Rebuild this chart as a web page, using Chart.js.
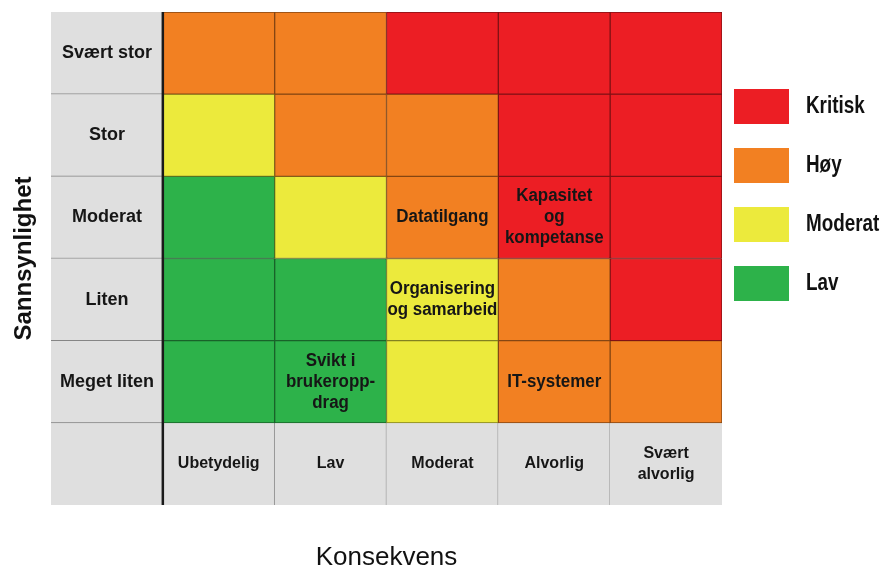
<!DOCTYPE html>
<html lang="no">
<head>
<meta charset="utf-8">
<title>Risikomatrise</title>
<script src="https://cdn.jsdelivr.net/npm/chart.js@4.4.1/dist/chart.umd.min.js"></script>
<style>
  html, body { margin: 0; padding: 0; background: #fff; }
  canvas { display: block; }
</style>
</head>
<body>
<canvas id="riskChart" width="890" height="572"></canvas>
<script>
// Konsekvens along x, sannsynlighet along y (top to bottom)
const consequences = ['Ubetydelig', 'Lav', 'Moderat', 'Alvorlig', 'Svært alvorlig'];
const likelihoods = ['Svært stor', 'Stor', 'Moderat', 'Liten', 'Meget liten'];

// risk levels, 0 = Kritisk ... 3 = Lav
const levels = ['Kritisk', 'Høy', 'Moderat', 'Lav'];
const levelColors = ['#ec1e24', '#f28022', '#ecea3c', '#2db24a'];

// level of every cell, one row per likelihood
const matrix = [
  [1, 1, 0, 0, 0],
  [2, 1, 1, 0, 0],
  [3, 2, 1, 0, 0],
  [3, 3, 2, 1, 0],
  [3, 3, 2, 1, 1]
];

// risks placed in the matrix (row = likelihood index, col = consequence index)
const riskNames = [
  ['Datatilgang'],
  ['Kapasitet', 'og', 'kompetanse'],
  ['Organisering', 'og samarbeid'],
  ['Svikt i', 'brukeropp-', 'drag'],
  ['IT-systemer']
];
const riskRows = [2, 2, 3, 4, 4];
const riskCols = [2, 3, 2, 1, 3];

const FONT = '"Liberation Sans", Arial, sans-serif';
const headerGray = '#dfdfdf';
const xLabels = [''].concat(consequences);   // first column holds the row headers
const nRows = likelihoods.length + 1;         // last row holds the column headers

function darken(hex, f) {
  const n = parseInt(hex.slice(1), 16);
  const r = Math.round(((n >> 16) & 255) * f);
  const g = Math.round(((n >> 8) & 255) * f);
  const b = Math.round((n & 255) * f);
  return `rgb(${r},${g},${b})`;
}

const datasets = [];
for (let r = 0; r < nRows; r++) {
  const labelRow = r === likelihoods.length;
  const fills = xLabels.map((_, c) => (c === 0 || labelRow) ? headerGray : levelColors[matrix[r][c - 1]]);
  datasets.push({
    label: labelRow ? '' : likelihoods[r],
    data: xLabels.map(() => [nRows - 1 - r, nRows - r]),
    backgroundColor: fills,
    borderColor: fills.map((f, c) => (c === 0 || labelRow) ? '#858585' : darken(f, 0.55)),
    borderSkipped: false,
    borderWidth: (ctx) => {
      const c = ctx.dataIndex;
      if (c > 0 && !labelRow) return 1;
      return {
        left: 0,
        top: 0,
        right: (labelRow && c > 0 && c < consequences.length) ? 1 : 0,
        bottom: (c === 0 && !labelRow) ? 1 : 0
      };
    }
  });
}

function wrap(ctx, text, maxW) {
  const words = text.split(' ');
  const lines = [];
  let line = '';
  words.forEach(w => {
    const test = line ? line + ' ' + w : w;
    if (line && ctx.measureText(test).width > maxW) {
      lines.push(line);
      line = w;
    } else {
      line = test;
    }
  });
  lines.push(line);
  return lines;
}

// centred block of lines, optionally squeezed horizontally
function drawLines(ctx, lines, cx, cy, lh, sx = 1) {
  const y0 = cy - (lines.length - 1) * lh / 2;
  lines.forEach((t, i) => {
    ctx.save();
    ctx.translate(cx, y0 + i * lh);
    ctx.scale(sx, 1);
    ctx.fillText(t, 0, 0);
    ctx.restore();
  });
}

const matrixText = {
  id: 'matrixText',
  afterDatasetsDraw(chart) {
    const { ctx, chartArea, scales: { x, y } } = chart;
    const cellW = x.getPixelForValue(1) - x.getPixelForValue(0);
    ctx.save();

    // heavy line between the row headers and the matrix
    const edge = (x.getPixelForValue(0) + x.getPixelForValue(1)) / 2;
    ctx.strokeStyle = '#1a1a1a';
    ctx.lineWidth = 2.5;
    ctx.beginPath();
    ctx.moveTo(edge, chartArea.top);
    ctx.lineTo(edge, chartArea.bottom);
    ctx.stroke();

    ctx.fillStyle = '#161616';
    ctx.textAlign = 'center';
    ctx.textBaseline = 'middle';

    ctx.font = 'bold 18px ' + FONT;
    likelihoods.forEach((t, r) => {
      drawLines(ctx, [t], x.getPixelForValue(0), y.getPixelForValue(nRows - r - 0.5), 21);
    });

    ctx.font = 'bold 16px ' + FONT;
    consequences.forEach((t, c) => {
      drawLines(ctx, wrap(ctx, t, cellW - 20), x.getPixelForValue(c + 1), y.getPixelForValue(0.5), 21);
    });

    ctx.font = 'bold 18px ' + FONT;
    riskNames.forEach((lines, i) => {
      drawLines(ctx, lines, x.getPixelForValue(riskCols[i] + 1), y.getPixelForValue(nRows - riskRows[i] - 0.5), 21, 0.94);
    });
    ctx.restore();
  },
  afterDraw(chart) {
    // legend for the risk levels
    const { ctx, chartArea } = chart;
    const boxX = chartArea.right + 12;
    ctx.save();
    ctx.font = 'bold 23px ' + FONT;
    ctx.textAlign = 'left';
    ctx.textBaseline = 'middle';
    levels.forEach((name, i) => {
      const top = 89 + i * 59;
      ctx.fillStyle = levelColors[i];
      ctx.fillRect(boxX, top, 55, 35);
      ctx.fillStyle = '#111';
      drawLines(ctx, [name], boxX + 72, top + 18, 0, 0.82);
    });
    ctx.restore();
  }
};

new Chart(document.getElementById('riskChart'), {
  type: 'bar',
  data: { labels: xLabels, datasets: datasets },
  options: {
    responsive: false,
    animation: false,
    devicePixelRatio: 1,
    grouped: false,
    barPercentage: 1,
    categoryPercentage: 1,
    layout: { padding: { top: 12, right: 168, left: 0, bottom: 0 } },
    plugins: {
      legend: { display: false },
      tooltip: { enabled: false }
    },
    scales: {
      x: {
        grid: { display: false, drawTicks: false },
        border: { display: false },
        ticks: { display: false },
        title: {
          display: true,
          text: 'Konsekvens',
          color: '#111',
          font: { family: FONT, size: 26, lineHeight: 1 },
          padding: { top: 40, bottom: 1 }
        }
      },
      y: {
        min: 0,
        max: nRows,
        grid: { display: false, drawTicks: false },
        border: { display: false },
        ticks: { display: false },
        title: {
          display: true,
          text: 'Sannsynlighet',
          color: '#111',
          font: { family: FONT, size: 24, weight: 'bold', lineHeight: 1 },
          padding: { top: 12, bottom: 15 }
        }
      }
    }
  },
  plugins: [matrixText]
});
</script>
</body>
</html>
